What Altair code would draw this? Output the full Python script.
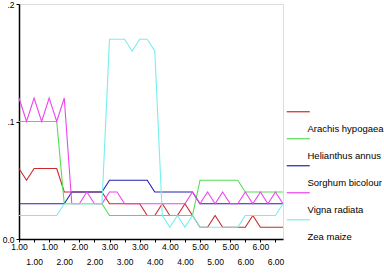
import altair as alt
import pandas as pd

# 36 categories on the x axis (each value repeated six times)
x_categories = ["1.00"] * 6 + ["2.00"] * 6 + ["3.00"] * 6 + ["4.00"] * 6 + ["5.00"] * 6 + ["6.00"] * 6

species = ["Arachis hypogaea", "Helianthus annus", "Sorghum bicolour", "Vigna radiata", "Zea maize"]
colors = ["#cc2a2a", "#55dd55", "#2222b0", "#ee44ee", "#77eeee"]

arachis = [0.06, 0.05, 0.06, 0.06, 0.06, 0.06, 0.04, 0.04, 0.04, 0.04, 0.04, 0.04,
           0.03, 0.03, 0.03, 0.03, 0.03, 0.02, 0.02, 0.03, 0.02, 0.02, 0.03, 0.02,
           0.01, 0.01, 0.02, 0.01, 0.01, 0.01, 0.01, 0.02, 0.01, 0.01, 0.01, 0.01]
helianthus = [0.10, 0.10, 0.10, 0.10, 0.10, 0.10, 0.03, 0.03, 0.03, 0.03, 0.03, 0.03,
              0.02, 0.02, 0.02, 0.02, 0.02, 0.02, 0.02, 0.02, 0.02, 0.02, 0.02, 0.02,
              0.05, 0.05, 0.05, 0.05, 0.05, 0.05, 0.04, 0.04, 0.04, 0.04, 0.04, 0.04]
sorghum = [0.03, 0.03, 0.03, 0.03, 0.03, 0.03, 0.03, 0.04, 0.04, 0.04, 0.04, 0.04,
           0.05, 0.05, 0.05, 0.05, 0.05, 0.05, 0.04, 0.04, 0.04, 0.04, 0.04, 0.04,
           0.03, 0.03, 0.03, 0.03, 0.03, 0.03, 0.03, 0.03, 0.03, 0.03, 0.03, 0.03]
vigna = [0.12, 0.10, 0.12, 0.10, 0.12, 0.10, 0.12, 0.03, 0.03, 0.04, 0.03, 0.03,
         0.04, 0.04, 0.03, 0.03, 0.03, 0.03, 0.03, 0.03, 0.03, 0.03, 0.03, 0.04,
         0.03, 0.04, 0.03, 0.04, 0.03, 0.03, 0.04, 0.03, 0.04, 0.03, 0.04, 0.03]
zea = [0.02, 0.02, 0.02, 0.02, 0.02, 0.02, 0.03, 0.03, 0.03, 0.03, 0.03, 0.03,
       0.17, 0.17, 0.17, 0.16, 0.17, 0.17, 0.16, 0.02, 0.01, 0.02, 0.01, 0.02,
       0.01, 0.01, 0.01, 0.01, 0.01, 0.01, 0.02, 0.02, 0.02, 0.02, 0.02, 0.03]

series = [arachis, helianthus, sorghum, vigna, zea]

rows = []
for name, vals in zip(species, series):
    for i, v in enumerate(vals):
        rows.append({"idx": i, "cat": x_categories[i], "value": v, "species": name})
df = pd.DataFrame(rows)

label_array = "[" + ",".join("'" + c + "'" for c in x_categories) + "]"
x_label_expr = (
    f"(datum.value / 2) % 2 == 1 ? ['', {label_array}[datum.value]] : {label_array}[datum.value]"
)

FONT = "Liberation Sans"
LABEL_DY = 17  # legend labels sit below their line sample (SPSS style)

chart = alt.Chart(df).mark_line(strokeWidth=1.1, clip=False).encode(
    x=alt.X(
        "idx:Q",
        scale=alt.Scale(domain=[0, 35], nice=False, zero=False),
        axis=alt.Axis(
            title=None,
            values=list(range(0, 35, 2)),
            labelExpr=x_label_expr,
            grid=False,
            domainColor="black",
            domainWidth=1.5,
            tickColor="black",
            tickSize=3,
            labelPadding=-LABEL_DY,
            labelLineHeight=15,
            labelFont=FONT,
            labelFontSize=8.5,
            labelColor="black",
            labelOverlap=False,
            labelFlush=False,
        ),
    ),
    y=alt.Y(
        "value:Q",
        scale=alt.Scale(domain=[0, 0.2], nice=False),
        axis=alt.Axis(
            title=None,
            values=[0, 0.1, 0.2],
            labelExpr="datum.value == 0 ? '0.0' : replace(format(datum.value, '.1f'), '0.', '.')",
            grid=False,
            domainColor="black",
            domainWidth=1.5,
            tickColor="black",
            tickSize=3,
            labelPadding=2,
            labelOffset=-LABEL_DY,
            labelFont=FONT,
            labelFontSize=8.5,
            labelColor="black",
            labelFlush=False,
        ),
    ),
    color=alt.Color(
        "species:N",
        scale=alt.Scale(domain=species, range=colors),
        legend=alt.Legend(
            title=None,
            orient="none",
            legendX=276,
            legendY=103,
            padding=0,
            symbolType="M-6.5,0L5,0",
            symbolSize=16,
            symbolStrokeWidth=1.2,
            labelOffset=3,
            labelBaseline="middle",
            labelFont=FONT,
            labelFontSize=9.5,
            labelColor="black",
            rowPadding=0,
            labelLimit=120,
        ),
    ),
    detail="species:N",
).properties(
    width=264,
    height=235,
    padding={"left": 19, "top": 4, "right": 101, "bottom": 37},
    autosize=alt.AutoSizeParams(type="none"),
).configure_view(
    stroke="#777777",
    strokeWidth=1.5,
).configure(
    background="white",
    style={"guide-label": {"dy": LABEL_DY}},
)

chart.save("out.html", embed_options={"renderer": "svg", "actions": False})
